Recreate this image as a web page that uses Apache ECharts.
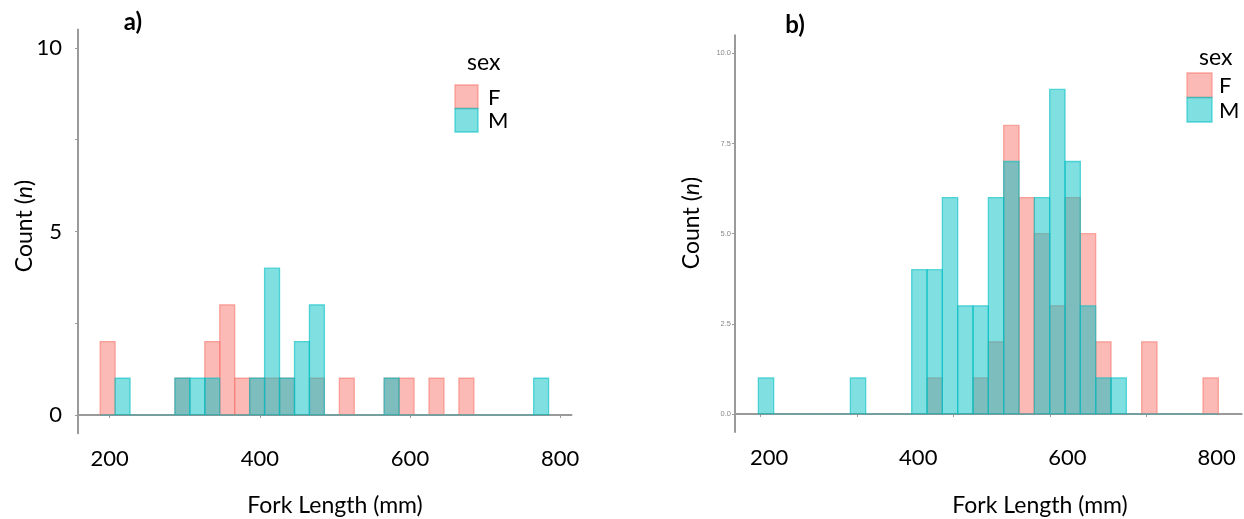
<!DOCTYPE html>
<html><head><meta charset="utf-8">
<script src="https://cdn.jsdelivr.net/npm/echarts@6/dist/echarts.min.js"></script>
<style>html,body{margin:0;padding:0;background:#fff}#c{width:1244px;height:519px}</style>
</head><body><div id="c"></div>
<script>
// ---- data ----
const sexLevels = ['F', 'M'];
// panel a: 30 bins
const binStartA = 187.5, binWidthA = 19.9;
const countsFA = [2,0,0,0,0,1,0,2,3,1,1,1,1,0,1,0,1,0,0,1,1,0,1,0,1,0,0,0,0,0];
const countsMA = [0,1,0,0,0,1,1,1,0,0,1,4,1,2,3,0,0,0,0,1,0,0,0,0,0,0,0,0,0,1];
// panel b: 30 bins
const binStartB = 185.7, binWidthB = 20.55;
const countsFB = [0,0,0,0,0,0,0,0,0,0,0,1,0,0,1,2,8,6,5,3,6,5,2,0,0,2,0,0,0,1];
const countsMB = [1,0,0,0,0,0,1,0,0,0,4,4,6,3,3,6,7,0,6,9,7,3,1,1,0,0,0,0,0,0];
// tick labels
const xLabelsA = [200, 400, 600, 800];
const xTicksA = [200, 400, 600, 800];
const yTicksA = [0, 2.5, 5, 7.5, 10];
const yLabelsA = [0, 5, 10];
const xLabelsB = [200, 400, 600, 800];
const xTicksB = [188.9, 317.6, 447, 576.6, 706.2];
const yTicksB = [0, 2.5, 5, 7.5, 10];

const FILL = {F: 'rgba(248,118,109,0.5)', M: 'rgba(0,191,196,0.5)'};
const LINE = {F: 'rgba(248,118,109,0.6)', M: 'rgba(0,191,196,0.6)'};
const FONT = 'Lato';
const TXT = '#000';
const AX = '#9a9a9a';

function binData(start, width, counts) {
  return counts.map((c, i) => [start + i * width, start + (i + 1) * width, c]);
}
function histSeries(idx, data, sex) {
  return {
    type: 'custom', xAxisIndex: idx, yAxisIndex: idx, name: sex,
    data: data, encode: {x: [0, 1], y: 2}, silent: true,
    renderItem(params, api) {
      const x0 = api.value(0), x1 = api.value(1), c = api.value(2);
      const p0 = api.coord([x0, 0]), p1 = api.coord([x1, c]);
      if (c === 0) {
        return {type: 'line', shape: {x1: p0[0], y1: p0[1], x2: p1[0], y2: p0[1]},
                style: {stroke: LINE[sex], lineWidth: 1.3}};
      }
      return {type: 'rect',
              shape: {x: p0[0], y: p1[1], width: p1[0] - p0[0], height: p0[1] - p1[1]},
              style: {fill: FILL[sex], stroke: LINE[sex], lineWidth: 1.3}};
    }
  };
}

function legend(x, titleY, keyY, keyW, keyH, labX) {
  const els = [{type: 'text', x: x.title, y: titleY,
    style: {text: 'sex', font: '23px ' + FONT, fill: TXT, textVerticalAlign: 'middle'}}];
  sexLevels.forEach((s, i) => {
    els.push({type: 'rect', shape: {x: x.key, y: keyY + i * keyH, width: keyW, height: keyH},
      style: {fill: FILL[s], stroke: LINE[s], lineWidth: 1.3}});
    els.push({type: 'text', x: labX, y: keyY + i * keyH + keyH / 2 + 1,
      style: {text: s, font: '22px ' + FONT, fill: TXT, textVerticalAlign: 'middle'}});
  });
  return els;
}

const chart = echarts.init(document.getElementById('c'), null, {renderer: 'canvas'});
chart.setOption({
  animation: false,
  backgroundColor: '#fff',
  grid: [
    {left: 78, top: 29.6, width: 493.5, height: 403.7},
    {left: 735, top: 35.3, width: 506.7, height: 396.7}
  ],
  xAxis: [
    {gridIndex: 0, type: 'value', min: 158, max: 815,
     axisLine: {show: true, lineStyle: {color: AX, width: 2}},
     axisTick: {show: true, length: 3, lineStyle: {color: AX}, customValues: xTicksA},
     axisLabel: {customValues: xLabelsA, fontFamily: FONT, fontSize: 22, color: TXT, margin: 15},
     splitLine: {show: false}},
    {gridIndex: 1, type: 'value', min: 154.4, max: 833.5,
     axisLine: {show: true, lineStyle: {color: AX, width: 2}},
     axisTick: {show: true, length: 3, lineStyle: {color: AX}, customValues: xTicksB},
     axisLabel: {customValues: xLabelsB, fontFamily: FONT, fontSize: 22, color: TXT, margin: 15},
     splitLine: {show: false}}
  ],
  yAxis: [
    {gridIndex: 0, type: 'value', min: -0.5, max: 10.5,
     axisLine: {show: true, lineStyle: {color: AX, width: 2}},
     axisTick: {show: true, length: 3, lineStyle: {color: AX}, customValues: yTicksA},
     axisLabel: {customValues: yLabelsA, fontFamily: FONT, fontSize: 22, color: TXT, margin: 16},
     splitLine: {show: false}},
    {gridIndex: 1, type: 'value', min: -0.5, max: 10.5,
     axisLine: {show: true, lineStyle: {color: AX, width: 2}},
     axisTick: {show: true, length: 3, lineStyle: {color: AX}, customValues: yTicksB},
     axisLabel: {customValues: yTicksB, fontFamily: 'Liberation Sans', fontSize: 7.5, color: '#888', margin: 4,
                 formatter: v => v.toFixed(1)},
     splitLine: {show: false}}
  ],
  series: [
    histSeries(0, binData(binStartA, binWidthA, countsFA), 'F'),
    histSeries(0, binData(binStartA, binWidthA, countsMA), 'M'),
    histSeries(1, binData(binStartB, binWidthB, countsFB), 'F'),
    histSeries(1, binData(binStartB, binWidthB, countsMB), 'M')
  ],
  graphic: [
    {type: 'text', x: 133, y: 22, style: {text: 'a)', font: 'bold 24px ' + FONT, fill: TXT,
      textAlign: 'center', textVerticalAlign: 'middle'}},
    {type: 'text', x: 795, y: 25, style: {text: 'b)', font: 'bold 24px ' + FONT, fill: TXT,
      textAlign: 'center', textVerticalAlign: 'middle'}},
    {type: 'text', x: 335, y: 506, style: {text: 'Fork Length (mm)', font: '23px ' + FONT, fill: TXT,
      textAlign: 'center', textVerticalAlign: 'middle'}},
    {type: 'text', x: 1040, y: 506, style: {text: 'Fork Length (mm)', font: '23px ' + FONT, fill: TXT,
      textAlign: 'center', textVerticalAlign: 'middle'}},
    {type: 'text', x: 25, y: 226, rotation: Math.PI / 2,
     style: {text: 'Count ({i|n})', font: '23px ' + FONT, fill: TXT, textAlign: 'center', textVerticalAlign: 'middle',
             rich: {i: {fontStyle: 'italic', fontFamily: FONT, fontSize: 23, fill: TXT}}}},
    {type: 'text', x: 692, y: 223, rotation: Math.PI / 2,
     style: {text: 'Count ({i|n})', font: '23px ' + FONT, fill: TXT, textAlign: 'center', textVerticalAlign: 'middle',
             rich: {i: {fontStyle: 'italic', fontFamily: FONT, fontSize: 23, fill: TXT}}}},
    ...legend({title: 467, key: 455}, 63, 85, 23, 23.5, 488),
    ...legend({title: 1199, key: 1187}, 58, 73, 25, 24.5, 1219)
  ]
});
</script>
</body></html>
